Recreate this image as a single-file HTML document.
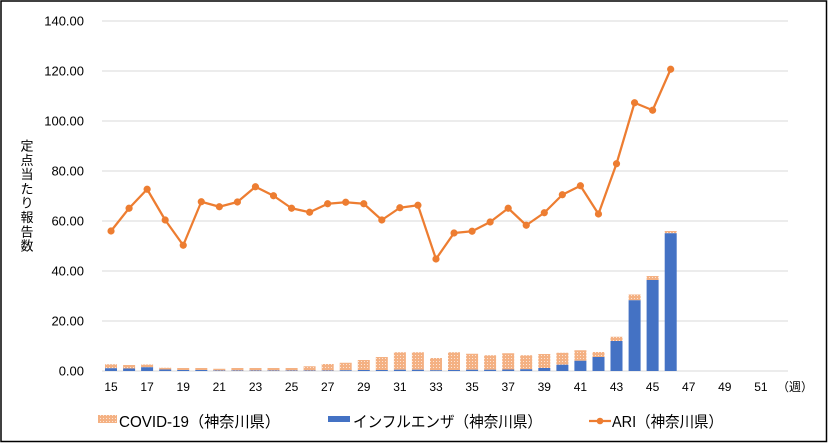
<!DOCTYPE html>
<html><head><meta charset="utf-8"><style>
html,body{margin:0;padding:0;background:#fff;}
svg{display:block;}
text{font-family:"Liberation Sans","Noto Sans CJK JP",sans-serif;fill:#000;}
</style></head><body>
<svg width="829" height="444" viewBox="0 0 829 444" xmlns="http://www.w3.org/2000/svg">
<defs>
<pattern id="cv" width="3" height="3" patternUnits="userSpaceOnUse">
<rect width="3" height="3" fill="#F4B183"/>
<rect x="1" y="1" width="1" height="1" fill="#FCE4D6"/>
</pattern>
</defs>
<rect x="0" y="0" width="829" height="444" fill="#fff"/>
<rect x="1" y="1" width="825.5" height="440.5" fill="none" stroke="#000" stroke-width="1.5"/>
<!-- gridlines -->
<g stroke="#D9D9D9" stroke-width="1">
<line x1="102" y1="21" x2="788" y2="21"/>
<line x1="102" y1="71" x2="788" y2="71"/>
<line x1="102" y1="121" x2="788" y2="121"/>
<line x1="102" y1="171" x2="788" y2="171"/>
<line x1="102" y1="221" x2="788" y2="221"/>
<line x1="102" y1="271" x2="788" y2="271"/>
<line x1="102" y1="321" x2="788" y2="321"/>
<line x1="102" y1="371" x2="788" y2="371"/>
</g>
<!-- y labels -->
<g font-size="13" text-anchor="end">
<text x="84" y="25.5">140.00</text>
<text x="84" y="75.5">120.00</text>
<text x="84" y="125.5">100.00</text>
<text x="84" y="175.5">80.00</text>
<text x="84" y="225.5">60.00</text>
<text x="84" y="275.5">40.00</text>
<text x="84" y="325.5">20.00</text>
<text x="84" y="375.5">0.00</text>
</g>
<!-- y title -->
<g font-size="13" text-anchor="middle">
<text x="27" y="150.5">定</text>
<text x="27" y="164.8">点</text>
<text x="27" y="179.1">当</text>
<text x="27" y="193.4">た</text>
<text x="27" y="207.7">り</text>
<text x="27" y="222">報</text>
<text x="27" y="236.3">告</text>
<text x="27" y="250.6">数</text>
</g>
<!-- x labels -->
<g font-size="12" text-anchor="middle">
<text x="111" y="391">15</text>
<text x="147.1" y="391">17</text>
<text x="183.2" y="391">19</text>
<text x="219.3" y="391">21</text>
<text x="255.5" y="391">23</text>
<text x="291.6" y="391">25</text>
<text x="327.7" y="391">27</text>
<text x="363.8" y="391">29</text>
<text x="399.9" y="391">31</text>
<text x="436" y="391">33</text>
<text x="472.1" y="391">35</text>
<text x="508.2" y="391">37</text>
<text x="544.3" y="391">39</text>
<text x="580.4" y="391">41</text>
<text x="616.5" y="391">43</text>
<text x="652.6" y="391">45</text>
<text x="688.7" y="391">47</text>
<text x="724.8" y="391">49</text>
<text x="760.9" y="391">51</text>
<text x="795" y="391">（週）</text>
</g>
<!-- covid bars -->
<g fill="url(#cv)">
<rect x="105" y="364.25" width="12" height="4"/>
<rect x="123.1" y="365" width="12" height="3.5"/>
<rect x="141.1" y="364.5" width="12" height="2.75"/>
<rect x="159.2" y="367.75" width="12" height="1.75"/>
<rect x="177.2" y="368" width="12" height="2"/>
<rect x="195.3" y="368" width="12" height="2"/>
<rect x="213.3" y="368.75" width="12" height="1.75"/>
<rect x="231.4" y="368" width="12" height="2.5"/>
<rect x="249.5" y="368" width="12" height="2.5"/>
<rect x="267.5" y="368" width="12" height="2.5"/>
<rect x="285.6" y="368" width="12" height="2.5"/>
<rect x="303.6" y="366.25" width="12" height="4.25"/>
<rect x="321.7" y="364" width="12" height="6.5"/>
<rect x="339.7" y="362.75" width="12" height="7.5"/>
<rect x="357.8" y="360" width="12" height="10"/>
<rect x="375.8" y="357" width="12" height="13"/>
<rect x="393.9" y="352.25" width="12" height="17.5"/>
<rect x="411.9" y="352.25" width="12" height="17.5"/>
<rect x="430" y="358" width="12" height="12.25"/>
<rect x="448" y="352.25" width="12" height="17.75"/>
<rect x="466.1" y="353.75" width="12" height="16"/>
<rect x="484.1" y="355.25" width="12" height="14.5"/>
<rect x="502.2" y="353.25" width="12" height="16.25"/>
<rect x="520.2" y="355.25" width="12" height="14"/>
<rect x="538.3" y="354" width="12" height="14"/>
<rect x="556.4" y="352.75" width="12" height="12"/>
<rect x="574.4" y="350.25" width="12" height="10.5"/>
<rect x="592.5" y="352" width="12" height="5"/>
<rect x="610.5" y="336.75" width="12" height="4.25"/>
<rect x="628.6" y="294.5" width="12" height="5.75"/>
<rect x="646.6" y="276" width="12" height="4"/>
<rect x="664.7" y="231" width="12" height="2.25"/>
</g>
<!-- flu bars -->
<g fill="#4472C4">
<rect x="105" y="368.25" width="12" height="2.75"/>
<rect x="123.1" y="368.5" width="12" height="2.5"/>
<rect x="141.1" y="367.25" width="12" height="3.75"/>
<rect x="159.2" y="369.5" width="12" height="1.5"/>
<rect x="177.2" y="370" width="12" height="1"/>
<rect x="195.3" y="370" width="12" height="1"/>
<rect x="213.3" y="370.5" width="12" height="0.5"/>
<rect x="231.4" y="370.5" width="12" height="0.5"/>
<rect x="249.5" y="370.5" width="12" height="0.5"/>
<rect x="267.5" y="370.5" width="12" height="0.5"/>
<rect x="285.6" y="370.5" width="12" height="0.5"/>
<rect x="303.6" y="370.5" width="12" height="0.5"/>
<rect x="321.7" y="370.5" width="12" height="0.5"/>
<rect x="339.7" y="370.25" width="12" height="0.75"/>
<rect x="357.8" y="370" width="12" height="1"/>
<rect x="375.8" y="370" width="12" height="1"/>
<rect x="393.9" y="369.75" width="12" height="1.25"/>
<rect x="411.9" y="369.75" width="12" height="1.25"/>
<rect x="430" y="370.25" width="12" height="0.75"/>
<rect x="448" y="370" width="12" height="1"/>
<rect x="466.1" y="369.75" width="12" height="1.25"/>
<rect x="484.1" y="369.75" width="12" height="1.25"/>
<rect x="502.2" y="369.5" width="12" height="1.5"/>
<rect x="520.2" y="369.25" width="12" height="1.75"/>
<rect x="538.3" y="368" width="12" height="3"/>
<rect x="556.4" y="364.75" width="12" height="6.25"/>
<rect x="574.4" y="360.75" width="12" height="10.25"/>
<rect x="592.5" y="357" width="12" height="14"/>
<rect x="610.5" y="341" width="12" height="30"/>
<rect x="628.6" y="300.25" width="12" height="70.75"/>
<rect x="646.6" y="280" width="12" height="91"/>
<rect x="664.7" y="233.25" width="12" height="137.75"/>
</g>
<!-- ARI line -->
<polyline fill="none" stroke="#ED7D31" stroke-width="2.25" stroke-linejoin="round" points="111.03,231 129.08,208.25 147.13,189.25 165.18,220 183.24,245.25 201.29,201.75 219.34,206.75 237.4,202 255.45,186.75 273.5,195.75 291.56,208.25 309.61,212.25 327.66,203.75 345.71,202.25 363.77,203.75 381.82,220 399.87,207.75 417.93,205.25 435.98,259 454.03,233 472.09,231.25 490.14,222 508.19,208.25 526.25,225.25 544.3,212.75 562.35,194.75 580.41,185.75 598.46,214 616.51,163.75 634.56,102.75 652.62,110.25 670.67,69.25"/>
<g fill="#ED7D31">
<circle cx="111.03" cy="231" r="3.6"/>
<circle cx="129.08" cy="208.25" r="3.6"/>
<circle cx="147.13" cy="189.25" r="3.6"/>
<circle cx="165.18" cy="220" r="3.6"/>
<circle cx="183.24" cy="245.25" r="3.6"/>
<circle cx="201.29" cy="201.75" r="3.6"/>
<circle cx="219.34" cy="206.75" r="3.6"/>
<circle cx="237.4" cy="202" r="3.6"/>
<circle cx="255.45" cy="186.75" r="3.6"/>
<circle cx="273.5" cy="195.75" r="3.6"/>
<circle cx="291.56" cy="208.25" r="3.6"/>
<circle cx="309.61" cy="212.25" r="3.6"/>
<circle cx="327.66" cy="203.75" r="3.6"/>
<circle cx="345.71" cy="202.25" r="3.6"/>
<circle cx="363.77" cy="203.75" r="3.6"/>
<circle cx="381.82" cy="220" r="3.6"/>
<circle cx="399.87" cy="207.75" r="3.6"/>
<circle cx="417.93" cy="205.25" r="3.6"/>
<circle cx="435.98" cy="259" r="3.6"/>
<circle cx="454.03" cy="233" r="3.6"/>
<circle cx="472.09" cy="231.25" r="3.6"/>
<circle cx="490.14" cy="222" r="3.6"/>
<circle cx="508.19" cy="208.25" r="3.6"/>
<circle cx="526.25" cy="225.25" r="3.6"/>
<circle cx="544.3" cy="212.75" r="3.6"/>
<circle cx="562.35" cy="194.75" r="3.6"/>
<circle cx="580.41" cy="185.75" r="3.6"/>
<circle cx="598.46" cy="214" r="3.6"/>
<circle cx="616.51" cy="163.75" r="3.6"/>
<circle cx="634.56" cy="102.75" r="3.6"/>
<circle cx="652.62" cy="110.25" r="3.6"/>
<circle cx="670.67" cy="69.25" r="3.6"/>
</g>
<!-- legend -->
<rect x="98" y="415" width="19" height="8" fill="url(#cv)"/>
<text x="119" y="427" font-size="15.5" textLength="161" lengthAdjust="spacingAndGlyphs">COVID-19（神奈川県）</text>
<rect x="328" y="416" width="22" height="6" fill="#4472C4"/>
<text x="353" y="427" font-size="15.5" textLength="189" lengthAdjust="spacingAndGlyphs">インフルエンザ（神奈川県）</text>
<line x1="589" y1="421" x2="611" y2="421" stroke="#ED7D31" stroke-width="2.25"/>
<circle cx="600" cy="421" r="3.3" fill="#ED7D31"/>
<text x="612" y="427" font-size="15.5" textLength="111" lengthAdjust="spacingAndGlyphs">ARI（神奈川県）</text>
</svg>
</body></html>
